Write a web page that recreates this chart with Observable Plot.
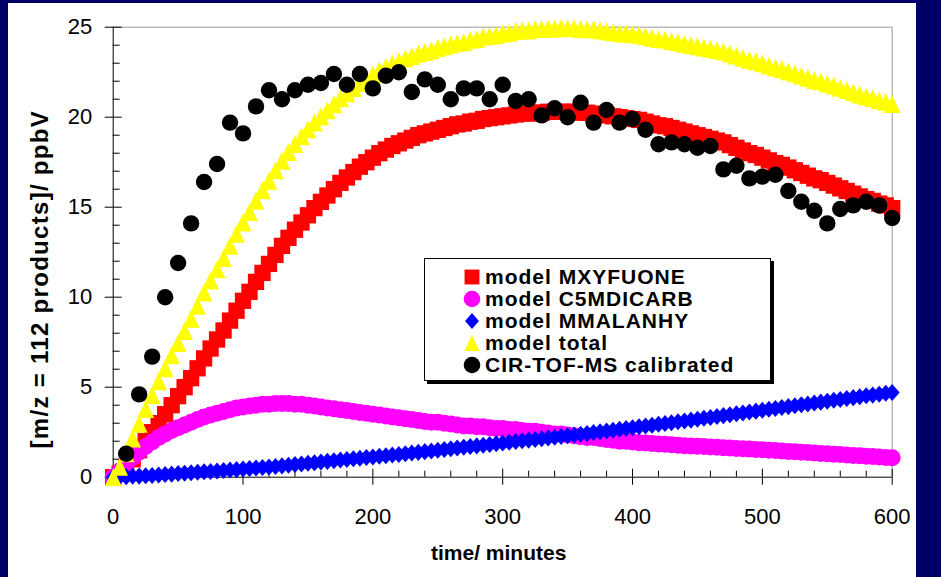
<!DOCTYPE html>
<html>
<head>
<meta charset="utf-8">
<script src="https://cdn.jsdelivr.net/npm/d3@7"></script>
<script src="https://cdn.jsdelivr.net/npm/@observablehq/plot@0.6"></script>
<style>
  html, body { margin: 0; padding: 0; }
  body { width: 941px; height: 577px; background: #000066; position: relative; overflow: hidden; font-family: "Liberation Sans", Arial, sans-serif; }
  #panel { position: absolute; left: 8px; top: 3px; width: 908px; height: 574px; background: #ffffff; }
  #chart { position: absolute; left: 0; top: 0; }
  #legend { position: absolute; left: 424px; top: 258px; width: 345px; height: 121px; background: #fff; border: 1px solid #000; box-shadow: 3px 3px 0 #000; }
  .row { position: absolute; left: 0; height: 22px; line-height: 22px; font-weight: bold; font-size: 21px; letter-spacing: 1px; color: #000; white-space: nowrap; }
  .row svg { position: absolute; left: 37px; top: 1px; }
  .row span { position: absolute; left: 60px; top: 0; }
</style>
</head>
<body>
<div id="panel"></div>
<div id="chart"></div>
<div id="legend"></div>
<script>
// Model output times (minutes)
const modelMinutes = [0,5,10,15,20,25,30,35,40,45,50,55,60,65,70,75,80,85,90,95,100,105,110,115,120,125,130,135,140,145,150,155,160,165,170,175,180,185,190,195,200,205,210,215,220,225,230,235,240,245,250,255,260,265,270,275,280,285,290,295,300,305,310,315,320,325,330,335,340,345,350,355,360,365,370,375,380,385,390,395,400,405,410,415,420,425,430,435,440,445,450,455,460,465,470,475,480,485,490,495,500,505,510,515,520,525,530,535,540,545,550,555,560,565,570,575,580,585,590,595,600];

// Modelled mixing ratios (ppbV)
const mxyfuone = [0.0,0.2,0.55,1.0,1.5,2.0,2.5,3.0,3.5,4.0,4.5,5.0,5.5,6.05,6.6,7.15,7.65,8.15,8.7,9.25,9.8,10.3,10.85,11.35,11.85,12.35,12.85,13.3,13.75,14.15,14.55,14.95,15.3,15.65,16.0,16.35,16.65,16.95,17.25,17.5,17.75,18.0,18.2,18.4,18.55,18.7,18.85,19.0,19.1,19.2,19.3,19.4,19.5,19.6,19.65,19.75,19.8,19.9,19.95,20.0,20.05,20.1,20.15,20.2,20.2,20.25,20.25,20.3,20.3,20.3,20.3,20.3,20.25,20.25,20.2,20.15,20.1,20.05,20.0,19.95,19.9,19.85,19.75,19.65,19.55,19.5,19.4,19.3,19.2,19.1,19.0,18.9,18.8,18.7,18.6,18.45,18.3,18.15,18.0,17.9,17.75,17.6,17.45,17.35,17.2,17.05,16.9,16.75,16.6,16.5,16.35,16.2,16.05,15.9,15.75,15.6,15.45,15.35,15.2,15.1,14.95];

const c5mdicarb = [0.0,0.35,0.75,1.1,1.4,1.7,1.95,2.2,2.4,2.6,2.75,2.9,3.05,3.2,3.35,3.45,3.55,3.65,3.75,3.85,3.9,3.95,4.0,4.05,4.05,4.1,4.1,4.1,4.05,4.05,4.0,3.95,3.9,3.85,3.8,3.75,3.7,3.65,3.6,3.55,3.5,3.45,3.4,3.35,3.3,3.25,3.2,3.15,3.1,3.05,3.05,3.0,2.95,2.9,2.85,2.85,2.8,2.8,2.75,2.7,2.7,2.65,2.65,2.6,2.55,2.55,2.5,2.45,2.4,2.4,2.35,2.3,2.25,2.2,2.2,2.15,2.1,2.05,2.0,2.0,1.95,1.92,1.9,1.87,1.85,1.83,1.8,1.78,1.75,1.73,1.72,1.7,1.68,1.66,1.64,1.62,1.6,1.58,1.56,1.54,1.52,1.5,1.48,1.45,1.43,1.41,1.39,1.37,1.34,1.32,1.3,1.28,1.26,1.23,1.21,1.19,1.17,1.15,1.12,1.1,1.08];

const mmalanhy = [0.0,0.02,0.03,0.05,0.06,0.08,0.1,0.12,0.15,0.17,0.2,0.22,0.25,0.27,0.3,0.32,0.35,0.37,0.4,0.42,0.45,0.48,0.51,0.54,0.57,0.6,0.63,0.66,0.7,0.73,0.77,0.8,0.84,0.88,0.91,0.95,0.98,1.02,1.05,1.09,1.12,1.16,1.19,1.23,1.26,1.3,1.34,1.38,1.42,1.46,1.5,1.54,1.58,1.62,1.66,1.7,1.74,1.78,1.82,1.86,1.9,1.94,1.98,2.02,2.06,2.1,2.14,2.18,2.22,2.26,2.3,2.34,2.39,2.43,2.48,2.52,2.57,2.61,2.66,2.7,2.75,2.8,2.84,2.89,2.94,2.98,3.03,3.08,3.12,3.17,3.22,3.27,3.32,3.37,3.42,3.47,3.52,3.57,3.62,3.67,3.72,3.77,3.82,3.87,3.92,3.97,4.02,4.07,4.12,4.17,4.22,4.27,4.32,4.37,4.42,4.47,4.52,4.56,4.61,4.66,4.7];

const modelTotal = [0.0,0.57,1.33,2.15,2.96,3.78,4.55,5.32,6.05,6.77,7.45,8.12,8.8,9.52,10.25,10.92,11.55,12.17,12.85,13.52,14.15,14.73,15.36,15.94,16.47,17.05,17.58,18.06,18.5,18.93,19.32,19.7,20.04,20.38,20.71,21.05,21.33,21.62,21.9,22.14,22.37,22.61,22.79,22.98,23.11,23.25,23.39,23.53,23.62,23.71,23.85,23.94,24.03,24.12,24.16,24.3,24.34,24.48,24.52,24.56,24.65,24.69,24.78,24.82,24.81,24.9,24.89,24.93,24.92,24.96,24.95,24.94,24.89,24.88,24.88,24.82,24.77,24.71,24.66,24.65,24.6,24.57,24.49,24.41,24.34,24.31,24.23,24.16,24.07,24.0,23.94,23.87,23.8,23.73,23.66,23.54,23.42,23.3,23.18,23.11,22.99,22.87,22.75,22.67,22.55,22.43,22.31,22.19,22.06,21.99,21.87,21.75,21.63,21.5,21.38,21.26,21.14,21.06,20.93,20.86,20.73];

// Measurement times (minutes) and calibrated CIR-TOF-MS signal (ppbV)
const measMinutes = [10,20,30,40,50,60,70,80,90,100,110,120,130,140,150,160,170,180,190,200,210,220,230,240,250,260,270,280,290,300,310,320,330,340,350,360,370,380,390,400,410,420,430,440,450,460,470,480,490,500,510,520,530,540,550,560,570,580,590,600];
const cirTofMs = [1.3,4.6,6.7,10.0,11.9,14.1,16.4,17.4,19.7,19.1,20.6,21.5,21.0,21.5,21.8,21.9,22.4,21.8,22.4,21.6,22.3,22.5,21.4,22.1,21.8,21.0,21.6,21.6,21.0,21.8,20.9,21.0,20.1,20.5,20.0,20.8,19.7,20.4,19.7,19.9,19.3,18.5,18.6,18.5,18.3,18.4,17.1,17.3,16.6,16.7,16.8,15.9,15.3,14.8,14.1,14.9,15.1,15.3,15.1,14.4];

// Axis ticks
const xTicks = [0,100,200,300,400,500,600];
const xMinorTicks = [20,40,60,80,120,140,160,180,220,240,260,280,320,340,360,380,420,440,460,480,520,540,560,580];
const yTicks = [0,5,10,15,20,25];
const yMinorTicks = [1,2,3,4,6,7,8,9,11,12,13,14,16,17,18,19,21,22,23,24];

const xTitle = "time/ minutes";
const yTitle = "[m/z = 112 products]/ ppbV";

// Series names, colours and marker shapes (legend order = drawing order)
const seriesNames = ["model MXYFUONE", "model C5MDICARB", "model MMALANHY", "model total", "CIR-TOF-MS calibrated"];
const seriesColors = ["#ff0000", "#ff00ff", "#0000ff", "#ffff00", "#000000"];

// Marker shapes: square, circle, a rhombus and an upward triangle, all centred on their bounding box
const markerSquare = {draw(ctx, size) { const h = Math.sqrt(size) / 2; ctx.rect(-h, -h, 2 * h, 2 * h); }};
const markerCircle = {draw(ctx, size) { const r = Math.sqrt(size / Math.PI); ctx.moveTo(r, 0); ctx.arc(0, 0, r, 0, 2 * Math.PI); }};
const markerDiamond = {draw(ctx, size) {
  const r = Math.sqrt(size / Math.PI), w = 1.05 * r, h = 1.2 * r;
  ctx.moveTo(0, -h); ctx.lineTo(w, 0); ctx.lineTo(0, h); ctx.lineTo(-w, 0); ctx.closePath();
}};
const markerTriangle = {draw(ctx, size) {
  const r = Math.sqrt(size / Math.PI), w = 1.15 * r, h = 1.22 * r;
  ctx.moveTo(0, -h); ctx.lineTo(w, h); ctx.lineTo(-w, h); ctx.closePath();
}};
const seriesSymbols = [markerSquare, markerCircle, markerDiamond, markerTriangle, markerCircle];
const seriesRadius = [9.2, 8.5, 7.1, 7.3, 8.2];

const model = modelMinutes.map((t, i) => ({
  t, mxyfuone: mxyfuone[i], c5mdicarb: c5mdicarb[i], mmalanhy: mmalanhy[i], total: modelTotal[i]
}));
const meas = measMinutes.map((t, i) => ({t, v: cirTofMs[i]}));
const modelKeys = ["mxyfuone", "c5mdicarb", "mmalanhy", "total"];

const blank = () => "";

const chart = Plot.plot({
  width: 941,
  height: 577,
  marginLeft: 112.7,
  marginRight: 49.3,
  marginTop: 26.7,
  marginBottom: 100.3,
  x: {domain: [0, 600]},
  y: {domain: [0, 25]},
  style: {background: "transparent", color: "#000", fontFamily: "'Liberation Sans', Arial, sans-serif", overflow: "visible"},
  marks: [
    Plot.ruleY([25], {stroke: "#999"}),
    Plot.ruleX([600], {stroke: "#999"}),
    Plot.ruleY([0], {stroke: "#000"}),
    Plot.ruleX([0], {stroke: "#000"}),
    // major ticks cross the axis; minor ticks point into the plot
    Plot.axisX({ticks: xTicks, tickSize: 8, tickPadding: 23, fontSize: 22, label: null}),
    Plot.axisX({ticks: xTicks, tickSize: 8, dy: -8, tickFormat: blank, label: null}),
    Plot.axisX({ticks: xMinorTicks, tickSize: 6, dy: -6, tickFormat: blank, label: null}),
    Plot.axisY({ticks: yTicks, tickSize: 8, tickPadding: 13, fontSize: 22, label: null}),
    Plot.axisY({ticks: yTicks, tickSize: 9, dx: 9, tickFormat: blank, label: null}),
    Plot.axisY({ticks: yMinorTicks, tickSize: 7, dx: 7, tickFormat: blank, label: null}),
    Plot.text([xTitle], {frameAnchor: "bottom", lineAnchor: "middle", dx: -4, dy: 76, fontSize: 21, fontWeight: "bold", fill: "#000"}),
    Plot.text([yTitle], {frameAnchor: "left", textAnchor: "middle", lineAnchor: "middle", rotate: -90, dx: -73, dy: 27, fontSize: 24, fontWeight: "bold", fill: "#000"}),
    ...modelKeys.map((k, i) => Plot.dot(model, {
      x: "t", y: k, symbol: seriesSymbols[i], r: seriesRadius[i], fill: seriesColors[i], stroke: "none"
    })),
    Plot.dot(meas, {x: "t", y: "v", symbol: seriesSymbols[4], r: seriesRadius[4], fill: seriesColors[4], stroke: "none"})
  ]
});
document.getElementById("chart").appendChild(chart);

// slightly wider letter spacing for the vertical title
d3.select(chart).selectAll("text").filter(function() { return this.textContent === yTitle; })
  .attr("letter-spacing", "1.3px");

// Legend box
const legend = d3.select("#legend");
seriesNames.forEach((name, i) => {
  const row = legend.append("div").attr("class", "row").style("top", (7 + i * 22.1) + "px");
  const size = 20;
  const svg = row.append("svg").attr("width", size).attr("height", size);
  const r = [8.4, 8.3, 6.6, 6.6, 8.3][i];
  svg.append("path")
    .attr("transform", `translate(${size / 2},${size / 2})`)
    .attr("d", d3.symbol(seriesSymbols[i], Math.PI * r * r)())
    .attr("fill", seriesColors[i]);
  row.append("span").text(name);
});
</script>
</body>
</html>
